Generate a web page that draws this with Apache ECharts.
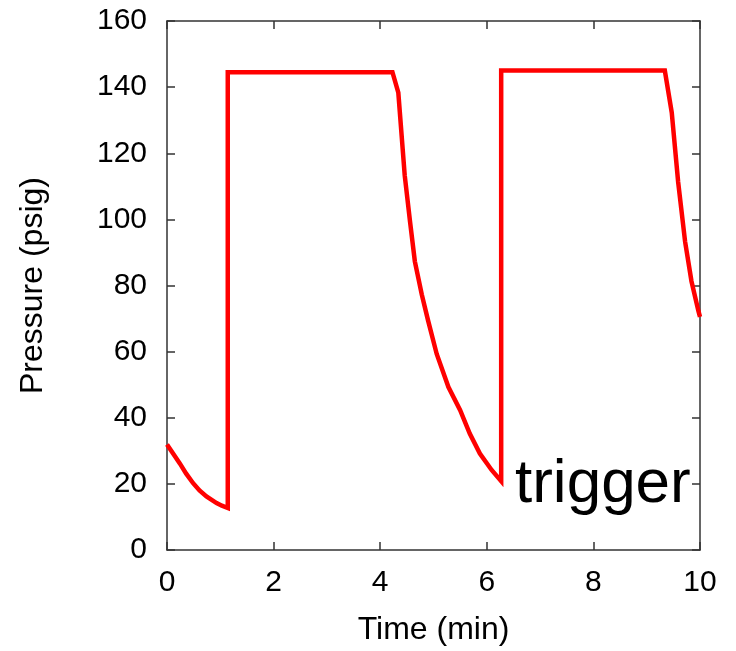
<!DOCTYPE html>
<html>
<head>
<meta charset="utf-8">
<script src="https://cdn.jsdelivr.net/npm/echarts@6/dist/echarts.min.js"></script>
<style>
  html, body { margin: 0; padding: 0; background: #fff; }
  #chart { width: 736px; height: 651px; }
</style>
</head>
<body>
<div id="chart"></div>
<script>
// Pressure trace over time: blowdown, refill, blowdown, refill, blowdown
const timeMin = [0, 0.12, 0.24, 0.36, 0.49, 0.61, 0.74, 0.93, 1.03, 1.14, 1.14, 4.23, 4.34, 4.46, 4.56, 4.65, 4.78, 4.90, 5.06, 5.28, 5.50, 5.68, 5.87, 6.09, 6.27, 6.27, 9.34, 9.47, 9.59, 9.72, 9.84, 9.97, 10.0];
const pressurePsig = [31.9, 29.0, 26.2, 23.1, 20.2, 18.0, 16.2, 14.2, 13.4, 12.7, 144.5, 144.5, 138.3, 113.3, 99.3, 87.3, 77.3, 69.3, 59.3, 49.3, 42.3, 35.2, 29.2, 24.2, 20.8, 145, 145, 132.3, 111.3, 93.3, 81.3, 72.3, 70.5];

const xTicks = { min: 0, max: 10, interval: 2 };
const yTicks = { min: 0, max: 160, interval: 20 };

const FONT = '"Liberation Sans", Arial, sans-serif';
const AXIS_COLOR = '#333';

const points = timeMin.map((t, i) => [t, pressurePsig[i]]);

const chart = echarts.init(document.getElementById('chart'), null, { renderer: 'canvas' });

const baseAxis = {
  type: 'value',
  axisLine: { show: true, onZero: false, lineStyle: { color: AXIS_COLOR, width: 1.5 } },
  axisTick: { show: true, inside: true, length: 8, lineStyle: { color: AXIS_COLOR, width: 1.5 } },
  splitLine: { show: false }
};

chart.setOption({
  animation: false,
  backgroundColor: '#fff',
  grid: { left: 167, right: 36, top: 21, bottom: 97, containLabel: false },
  xAxis: [
    Object.assign({}, baseAxis, {
      position: 'bottom',
      min: xTicks.min, max: xTicks.max, interval: xTicks.interval,
      name: 'Time (min)',
      nameLocation: 'middle',
      nameGap: 64,
      nameTextStyle: { fontFamily: FONT, fontSize: 32, color: '#000' },
      axisLabel: { fontFamily: FONT, fontSize: 30, color: '#000', margin: 18 }
    }),
    Object.assign({}, baseAxis, {
      position: 'top',
      min: xTicks.min, max: xTicks.max, interval: xTicks.interval,
      axisLabel: { show: false }
    })
  ],
  yAxis: [
    Object.assign({}, baseAxis, {
      position: 'left',
      min: yTicks.min, max: yTicks.max, interval: yTicks.interval,
      name: 'Pressure (psig)',
      nameLocation: 'middle',
      nameGap: 118,
      nameTextStyle: { fontFamily: FONT, fontSize: 32, color: '#000' },
      axisLabel: { fontFamily: FONT, fontSize: 30, color: '#000', margin: 20 }
    }),
    Object.assign({}, baseAxis, {
      position: 'right',
      min: yTicks.min, max: yTicks.max, interval: yTicks.interval,
      axisLabel: { show: false }
    })
  ],
  series: [{
    type: 'line',
    xAxisIndex: 0,
    yAxisIndex: 0,
    data: points,
    showSymbol: false,
    symbol: 'none',
    lineStyle: { color: '#ff0000', width: 4.5, join: 'miter' },
    z: 3
  }],
  graphic: [{
    type: 'text',
    left: 515,
    top: 454,
    style: {
      text: 'trigger',
      font: '62px ' + FONT,
      fill: '#000'
    },
    z: 10
  }]
});
</script>
</body>
</html>
